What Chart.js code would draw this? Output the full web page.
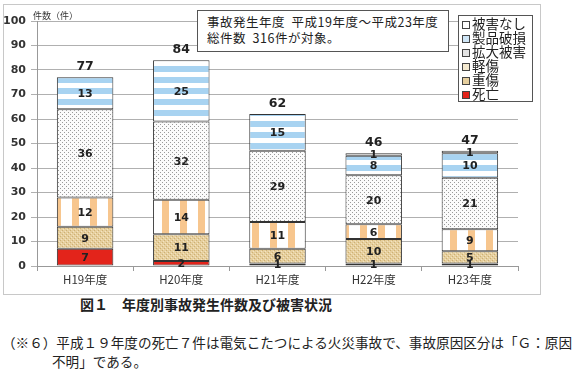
<!DOCTYPE html>
<html>
<head>
<meta charset="utf-8">
<script src="https://cdn.jsdelivr.net/npm/chart.js@4"></script>
<style>
  body { margin: 0; width: 581px; height: 376px; background: #fff; position: relative; overflow: hidden;
         font-family: "Noto Sans CJK JP", sans-serif; color: #222; }
  #frame { position: absolute; left: 3px; top: 4px; width: 536px; height: 289px; border: 1px solid #c8c8c8; }
  #wrap { position: absolute; left: 0; top: 0; width: 540px; height: 292px; }
  #ytitle { position: absolute; left: 33px; top: 9px; font-size: 9px; color: #333; }
  #note { position: absolute; left: 197px; top: 10px; width: 252px; height: 42px; border: 1px solid #555;
          background: #fff; font-size: 12.5px; letter-spacing: 0.5px; line-height: 16px; padding: 3px 0 0 9px;
          box-sizing: border-box; white-space: nowrap; }
  #legend { position: absolute; left: 458px; top: 15px; width: 75px; height: 87px; border: 1px solid #555;
            background: #fff; box-sizing: border-box; padding: 0 0 0 3px; font-size: 13.5px; line-height: 14px; }
  #legend div { white-space: nowrap; height: 14px; }
  #legend span.sw { display: inline-block; width: 6px; height: 6px; border: 1px solid #444; margin-right: 2px; vertical-align: 0; }
  #caption { position: absolute; left: 80px; top: 294px; font-size: 14px; font-weight: bold; white-space: nowrap; }
  #foot { position: absolute; left: 2px; top: 333px; font-size: 13.6px; line-height: 19px; white-space: nowrap; }
  #foot span { display: inline-block; margin-left: 50px; }
</style>
</head>
<body>
<div id="frame"></div>
<div id="wrap"><canvas id="grafico"></canvas></div>
<div id="ytitle">件数（件）</div>
<div id="note">事故発生年度&nbsp; 平成19年度～平成23年度<br>総件数&nbsp; 316件が対象。</div>
<div id="legend"></div>
<div id="caption">図１　年度別事故発生件数及び被害状況</div>
<div id="foot">（※６）平成１９年度の死亡７件は電気こたつによる火災事故で、事故原因区分は「Ｇ：原因<br><span>不明」である。</span></div>

<script>
const nendo = ["H19年度", "H20年度", "H21年度", "H22年度", "H23年度"];
const shibou = [7, 2, 1, 1, 1];
const juushou = [9, 11, 6, 10, 5];
const keishou = [12, 14, 11, 6, 9];
const kakudai = [36, 32, 29, 20, 21];
const hason = [13, 25, 15, 8, 10];
const nashi = [0, 0, 0, 1, 1];
const yTicks = [0, 10, 20, 30, 40, 50, 60, 70, 80, 90, 100];

// パターン作成
function pattern(w, h, draw) {
    const c = document.createElement("canvas");
    c.width = w; c.height = h;
    const g = c.getContext("2d");
    draw(g);
    return g.createPattern(c, "repeat");
}

const pHason = pattern(1, 11, g => {
    g.fillStyle = "#fff"; g.fillRect(0, 0, 1, 11);
    g.fillStyle = "#a8d3f1"; g.fillRect(0, 0, 1, 6);
});
const pKeishou = pattern(18, 1, g => {
    g.fillStyle = "#fff"; g.fillRect(0, 0, 18, 1);
    g.fillStyle = "#f7c68e"; g.fillRect(0, 0, 7, 1);
});
const pKakudai = pattern(4, 4, g => {
    g.fillStyle = "#fbfbfb"; g.fillRect(0, 0, 4, 4);
    g.fillStyle = "#9a9a9a"; g.fillRect(0, 0, 1, 1); g.fillRect(2, 2, 1, 1);
});
const pJuushou = pattern(4, 4, g => {
    g.fillStyle = "#e6cf9e"; g.fillRect(0, 0, 4, 4);
    g.fillStyle = "#cdb073"; g.fillRect(0, 0, 1, 1); g.fillRect(2, 2, 1, 1);
    g.fillStyle = "#f3e4c2"; g.fillRect(1, 3, 1, 1); g.fillRect(3, 1, 1, 1);
});

const series = [
    { label: "死亡", data: shibou, bg: "#e3241b", sw: "#e3241b" },
    { label: "重傷", data: juushou, bg: pJuushou, sw: "#e6cf9e" },
    { label: "軽傷", data: keishou, bg: pKeishou, sw: "#f5ead0" },
    { label: "拡大被害", data: kakudai, bg: pKakudai, sw: "#e4e4e4" },
    { label: "製品破損", data: hason, bg: pHason, sw: "#cfe6f7" },
    { label: "被害なし", data: nashi, bg: "#fff", sw: "#fff" }
];

// 凡例
const leg = document.getElementById("legend");
series.slice().reverse().forEach(s => {
    const d = document.createElement("div");
    d.innerHTML = '<span class="sw" style="background:' + s.sw + '"></span>' + s.label;
    leg.appendChild(d);
});

const numFont = '"DejaVu Sans", sans-serif';

const labelPlugin = {
    id: "labels",
    afterDatasetsDraw(chart) {
        const ctx = chart.ctx;
        ctx.save();
        ctx.fillStyle = "#222";
        ctx.textAlign = "center";
        ctx.textBaseline = "middle";
        ctx.font = "bold 11px " + numFont;
        chart.data.datasets.forEach((ds, i) => {
            chart.getDatasetMeta(i).data.forEach((el, j) => {
                if (ds.data[j] > 0) ctx.fillText(ds.data[j], el.x, (el.y + el.base) / 2 + 1);
            });
        });
        ctx.font = "bold 12.5px " + numFont;
        ctx.textBaseline = "bottom";
        const y = chart.scales.y;
        nendo.forEach((n, j) => {
            let total = 0;
            chart.data.datasets.forEach(ds => total += ds.data[j]);
            const x = chart.getDatasetMeta(0).data[j].x;
            ctx.fillText(total, x, y.getPixelForValue(total) - 4);
        });
        ctx.restore();
    }
};

new Chart(document.getElementById("grafico"), {
    type: "bar",
    data: {
        labels: nendo,
        datasets: series.map(s => ({
            label: s.label,
            data: s.data,
            backgroundColor: s.bg,
            borderColor: "#333",
            borderWidth: 1,
            borderSkipped: false,
            categoryPercentage: 1,
            barPercentage: 0.587
        }))
    },
    options: {
        responsive: true,
        maintainAspectRatio: false,
        animation: false,
        layout: { padding: { top: 21, right: 22, left: 0, bottom: 0 } },
        plugins: {
            legend: { display: false },
            tooltip: { enabled: false }
        },
        scales: {
            x: {
                stacked: true,
                afterFit: s => { s.height = 26; },
                grid: { drawOnChartArea: false, tickLength: 5, color: "#999" },
                border: { color: "#999" },
                ticks: { color: "#333", padding: 2, font: { family: '"Noto Sans CJK JP", sans-serif', size: 11.5 } }
            },
            y: {
                stacked: true,
                min: 0,
                max: 100,
                afterFit: s => { s.width = 37; },
                afterBuildTicks: s => { s.ticks = yTicks.map(v => ({ value: v })); },
                grid: { color: "#b0b0b0", tickLength: 6 },
                border: { color: "#999" },
                ticks: { color: "#333", padding: 5, font: { family: numFont, size: 11, weight: "bold" } }
            }
        }
    },
    plugins: [labelPlugin]
});
</script>
</body>
</html>
